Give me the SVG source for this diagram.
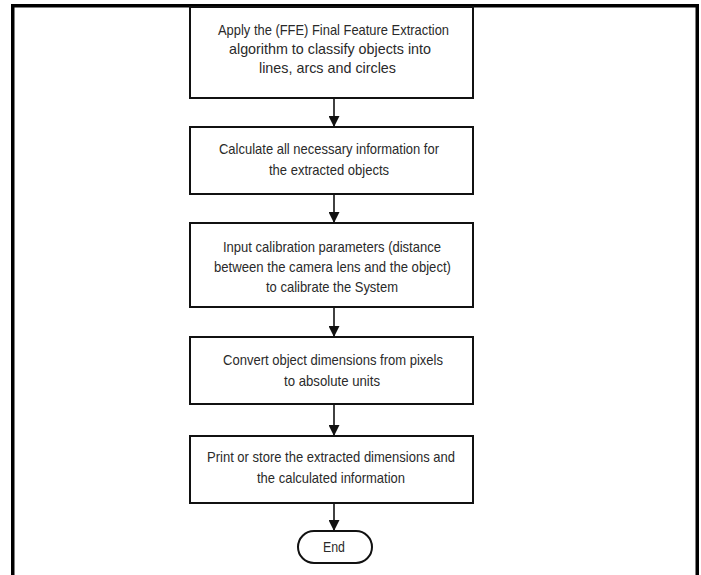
<svg xmlns="http://www.w3.org/2000/svg" width="701" height="575" viewBox="0 0 701 575">
  <defs>
    <style>
      .frame { fill: #000; }
      .box { fill: #fff; stroke: #111; stroke-width: 2; }
      .lbl { font-family: "Liberation Sans", Arial, sans-serif; font-size: 15px; fill: #2a2a2a; text-anchor: middle; }
      .conn { stroke: #111; stroke-width: 1.6; fill: none; marker-end: url(#head); }
    </style>
    <marker id="head" viewBox="0 0 10 10" refX="10" refY="5" markerWidth="11" markerHeight="11" markerUnits="userSpaceOnUse" orient="auto">
      <path d="M0,0 L10,5 L0,10 Z" fill="#111"/>
    </marker>
  </defs>
  <rect width="701" height="575" fill="#fff"/>

  <!-- page frame, open at the bottom -->
  <g id="frame">
    <rect class="frame" x="11" y="4" width="688" height="3.5"/>
    <rect class="frame" x="11" y="4" width="3.5" height="571"/>
    <rect class="frame" x="695.5" y="4" width="3.5" height="571"/>
  </g>

  <g id="connectors">
    <line class="conn" x1="334" y1="98" x2="334" y2="127"/>
    <line class="conn" x1="334" y1="194" x2="334" y2="223"/>
    <line class="conn" x1="334" y1="307" x2="334" y2="337"/>
    <line class="conn" x1="334" y1="404" x2="334" y2="436"/>
    <line class="conn" x1="334" y1="503" x2="334" y2="531"/>
  </g>

  <g id="ffe">
    <rect class="box" x="190" y="7" width="283" height="91"/>
    <text class="lbl" x="333.5" y="35" textLength="231" lengthAdjust="spacingAndGlyphs">Apply the (FFE) Final Feature Extraction</text>
    <text class="lbl" x="330" y="54" textLength="202" lengthAdjust="spacingAndGlyphs">algorithm to classify objects into</text>
    <text class="lbl" x="327.5" y="73" textLength="137" lengthAdjust="spacingAndGlyphs">lines, arcs and circles</text>
  </g>

  <g id="calculate">
    <rect class="box" x="190" y="127" width="283" height="67"/>
    <text class="lbl" x="329" y="154" textLength="220" lengthAdjust="spacingAndGlyphs">Calculate all necessary information for</text>
    <text class="lbl" x="329" y="175" textLength="120" lengthAdjust="spacingAndGlyphs">the extracted objects</text>
  </g>

  <g id="calibrate">
    <rect class="box" x="190" y="223" width="283" height="84"/>
    <text class="lbl" x="332" y="252" textLength="218" lengthAdjust="spacingAndGlyphs">Input calibration parameters (distance</text>
    <text class="lbl" x="332.5" y="272" textLength="237" lengthAdjust="spacingAndGlyphs">between the camera lens and the object)</text>
    <text class="lbl" x="332" y="292" textLength="132" lengthAdjust="spacingAndGlyphs">to calibrate the System</text>
  </g>

  <g id="convert">
    <rect class="box" x="190" y="337" width="283" height="67"/>
    <text class="lbl" x="333" y="365" textLength="220" lengthAdjust="spacingAndGlyphs">Convert object dimensions from pixels</text>
    <text class="lbl" x="332" y="386" textLength="96" lengthAdjust="spacingAndGlyphs">to absolute units</text>
  </g>

  <g id="output">
    <rect class="box" x="190" y="436" width="283" height="67"/>
    <text class="lbl" x="331" y="462" textLength="248" lengthAdjust="spacingAndGlyphs">Print or store the extracted dimensions and</text>
    <text class="lbl" x="331" y="483" textLength="148" lengthAdjust="spacingAndGlyphs">the calculated information</text>
  </g>

  <g id="end">
    <rect class="box" x="298" y="531" width="74" height="32" rx="16" ry="16"/>
    <text class="lbl" x="334" y="552" textLength="22" lengthAdjust="spacingAndGlyphs">End</text>
  </g>
</svg>
